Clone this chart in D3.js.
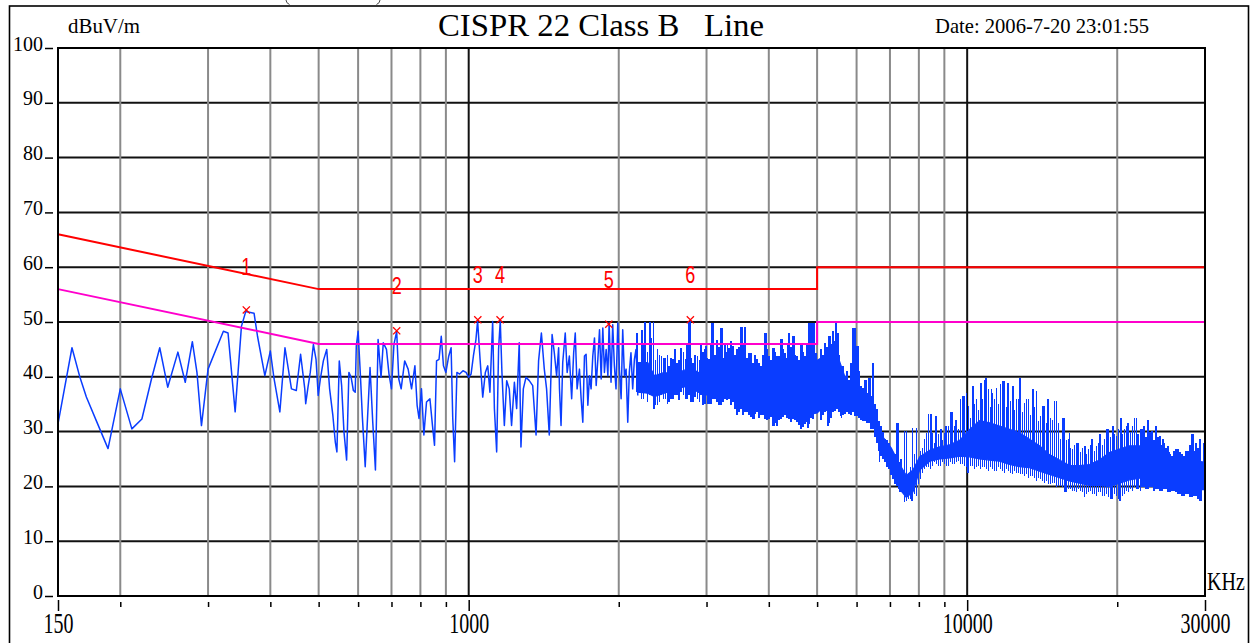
<!DOCTYPE html>
<html>
<head>
<meta charset="utf-8">
<script src="https://cdn.jsdelivr.net/npm/d3@7"></script>
<style>
  body { margin: 0; background: #fff; }
  svg { display: block; }
  text { font-family: "Liberation Serif", "Times New Roman", serif; }
</style>
</head>
<body>
<div id="chart"></div>
<script>
// CISPR 22 class B conducted scan (kHz / dBuV)

// sparse part of the sweep, drawn as a plain polyline
const traceFreq = [150,160,166,171,179,189,200,211,221,231,240,249,261,270,279,285,291,300,322,329,
  340,350,357,371,377,390,400,407,418,428,441,451,460,469,471,476,481,488,494,499,
  504,511,519,526,534,540,544,550,556,562,569,575,581,587,592,595,600,606,612,620,
  627,634,642,650,658,667,674,684,692,700,708,717,724,732,744,756,768,780,788,795,
  804,813,823,836,846,854,862,872,881,890,900,912,922,929,937,947,959,974,988,1000,
  1011,1022,1034,1042,1054,1067,1080,1092,1103,1117,1126,1138,1148,1157,1166,1179,1192,1206,1219,1235,
  1248,1263,1273,1287,1303,1323,1344,1365,1381,1399,1418,1433,1451,1470,1485,1501,1515,1521,1532,1544,
  1562,1576,1592,1609,1624,1636,1650,1668,1681,1694,1707,1720,1734,1747,1760,1774,1788,1802,1816,1830,
  1844,1858,1872,1887,1902,1913,1930,1945,1960,1975,1991,2006,2022,2037,2053,2069,2085,2100,2116,2133,
  2150,2166,2184];
const traceLevel = [31.4,45.3,39.9,36.3,32.0,26.9,37.8,30.5,32.3,39.6,45.3,38.1,44.5,39.0,46.4,40.8,31.1,41.4,48.3,48.0,
  33.6,49.2,51.9,51.6,47.4,40.2,44.7,39.6,33.6,45.3,37.8,37.5,44.1,37.8,35.1,38.1,40.8,45.9,43.2,36.6,
  39.6,42.9,45.0,37.8,32.9,28.1,26.3,42.9,38.4,30.0,24.8,40.8,39.9,37.5,37.2,45.6,48.3,40.8,32.6,23.6,
  32.9,41.7,31.7,23.0,46.8,39.9,46.2,45.0,40.5,37.8,45.9,48.3,39.6,37.8,42.9,41.4,37.8,42.0,34.8,32.4,
  37.8,29.4,35.4,36.0,31.1,27.5,42.9,43.2,47.4,42.0,40.8,43.8,45.3,32.4,24.5,40.8,40.5,41.1,40.8,39.9,
  40.5,43.8,46.8,50.2,43.2,36.3,40.8,42.0,37.2,50.1,34.2,26.3,45.0,50.2,40.8,31.1,39.3,37.8,31.1,39.0,
  34.2,46.2,27.2,37.8,39.9,39.3,38.4,29.4,42.9,48.0,41.4,37.8,29.4,47.7,44.4,40.2,45.3,37.8,31.1,42.6,
  48.0,40.8,43.8,36.0,44.4,48.0,37.8,41.4,36.0,31.7,43.8,44.1,34.8,40.2,37.8,43.8,47.1,38.4,43.2,48.6,
  39.6,48.9,40.8,45.0,40.2,49.8,39.0,49.5,42.0,37.8,49.8,41.4,36.0,48.6,40.2,41.4,31.7,40.8,44.4,37.8,
  43.2,45.0,36.6];

// dense part of the sweep: the solid core that every column covers
const bandFreq = [2184,2287,2358,2468,2585,2707,2836,2969,3110,3257,3411,3572,3740,3917,4102,4296,4498,4711,4762,5000,
  5220,5467,5725,5996,6278,6525,6779,7044,7323,7551,7786,8029,8410,8807,9224,9659,10116,10592,11091,11615,
  12163,12736,13338,13968,14628,15318,16041,16799,17593,18428,19298,20213,21167,22162,23208,24303,25449,26658,27906,29000,
  30000];
const bandLow = [37.2,37.0,36.4,37.0,37.6,38.2,37.6,36.6,37.0,37.4,36.6,35.4,34.8,34.2,34.2,34.2,34.2,34.2,33.0,33.4,
  35.0,34.6,34.6,34.0,33.2,30.5,26.2,23.2,19.5,18.0,19.0,23.0,24.6,25.0,25.2,25.5,25.4,25.0,24.8,24.6,
  24.0,23.6,23.4,22.8,22.2,21.6,21.0,20.6,20.2,20.2,20.0,20.6,21.2,21.5,21.5,21.2,20.8,20.2,19.8,19.4,
  19.4];
const bandHigh = [42.6,42.6,40.2,40.8,40.4,41.2,41.2,40.2,40.2,40.8,41.6,42.0,39.6,40.0,39.6,39.6,39.6,40.0,39.0,43.0,
  44.0,44.5,39.2,38.0,35.5,32.8,29.0,27.0,24.0,22.0,23.0,25.4,26.6,27.2,27.6,28.4,30.4,32.0,31.6,31.0,
  30.4,29.8,28.6,27.4,25.8,24.8,23.8,23.8,24.0,24.8,26.2,26.8,27.4,27.4,26.4,25.4,24.4,23.8,24.2,24.6,
  24.4];

// dense part, one column every 4 px: lowest and highest reading
const combFreq = [2220,2261,2304,2347,2390,2435,2480,2526,2573,2621,2670,2720,2770,2822,2875,2928,2983,3038,3095,3153,
  3211,3271,3332,3394,3458,3522,3588,3655,3723,3792,3863,3935,4008,4083,4159,4236,4315,4396,4478,4561,
  4646,4733,4821,4911,
  5096,5191,5288,5386,5487,5589,5693,5799,5907,6018,6130,6244,6360,6479,6600,6723,6848,6976,7106,7238,
  7373,
  7489,7629,7771,7916,8063,8213,8366,8522,8681,8843,9008,9176,9347,9521,9698,9879,10063,10250,10441,10636,
  10834,11036,11241,11450,11663,11880,12101,12327,12557,12791,13029,13272,13519,13771,14027,14288,14554,14825,15101,15383,
  15670,15962,16259,16562,16870,17184,17504,17830,18162,18500,18845,19196,19554,19918,20289,20667,21052,21444,21843,22250,
  22664,23086,23516,23954,24400,24855,25318,25789,26269,26758,27256,27764,28281,28808,29344];
const combTop = [48.6,50.0,50.0,50.0,45.0,43.8,43.5,42.0,43.2,42.6,45.3,43.2,50.0,42.6,43.8,45.9,45.0,43.2,49.8,46.8,
  48.9,46.2,45.3,45.6,45.0,49.0,49.0,44.4,42.6,43.2,42.0,48.0,43.8,45.3,43.8,46.9,44.4,48.0,47.4,43.8,
  45.9,43.8,49.8,49.2,
  45.0,46.2,47.4,48.3,48.0,41.9,40.1,39.5,48.9,45.6,38.3,39.5,39.8,42.5,34.1,31.0,28.6,28.0,26.2,31.6,
  25.0,
  30.1,22.5,30.7,27.4,26.5,28.6,33.2,29.8,32.8,30.4,29.8,31.0,33.5,32.2,35.9,36.5,34.7,38.0,35.9,38.9,
  39.5,37.7,37.1,38.0,38.6,39.2,36.5,38.3,35.9,39.7,35.3,35.9,37.7,37.4,32.8,34.7,35.9,32.2,35.6,28.6,
  32.5,28.6,26.8,28.0,26.2,27.4,26.8,28.6,27.4,29.5,28.6,30.4,31.0,29.2,32.5,30.4,31.6,31.0,32.5,30.4,
  31.0,32.2,30.1,31.0,29.2,28.0,27.4,25.6,26.8,26.2,25.6,26.5,29.5,28.0,28.6];
const combBottom = [36.0,37.2,36.6,34.2,34.8,36.6,36.0,35.4,36.0,36.6,37.2,36.0,36.6,35.4,36.0,36.6,35.1,35.1,36.0,35.4,
  34.8,36.0,36.0,35.4,33.0,34.2,33.6,33.0,32.3,33.6,33.0,32.3,32.3,31.1,31.1,32.3,33.0,32.3,32.3,31.7,
  30.5,31.4,31.4,32.3,
  32.2,33.5,31.6,33.5,34.1,32.8,33.2,33.2,33.5,32.8,32.2,31.9,31.6,30.4,28.0,25.6,24.4,23.2,21.3,20.1,
  18.9,
  17.1,17.7,17.4,18.3,21.3,23.2,23.5,23.8,24.1,23.8,24.1,23.8,24.1,24.4,24.1,23.8,22.5,23.8,23.5,23.2,
  23.5,22.8,23.2,22.8,23.2,22.5,22.8,22.2,22.5,22.2,21.9,21.6,21.9,21.0,21.3,20.7,20.4,20.7,19.8,20.1,
  18.9,19.5,19.2,18.9,19.2,18.0,18.9,18.6,18.3,18.9,18.3,18.0,17.7,18.3,17.4,18.6,18.9,19.2,19.5,19.2,
  19.8,19.5,19.8,19.5,19.2,19.5,18.9,19.2,18.9,18.6,18.3,18.6,18.0,18.3,17.4];

// columns in between the ones above, top of the solid mass
const fillFreq = [2241,2282,2325,2369,2412,2458,2503,2549,2597,2645,2695,2745,2796,2848,2902,2955,3011,3066,3124,3182,
  3241,3301,3363,3426,3490,3555,3621,3689,3758,3827,3899,3972,4045,4121,4198,4275,4355,4437,4520,4603,
  4689,4777,4866,
  5143,5239,5337,5436,5538,5641,5746,5853,5962,6074,6187,6302,6419,6539,6661,6785,6912,7041,7172,7305,
  7559,7700,7843,7989,8138,8289,8444,8601,8761,8925,9091,9261,9434,9609,9788,9971,10156,10345,10538,10735,
  10935,11138,11346,11557,11772,11991,12214,12442,12674,12910,13150,13395,13645,13899,14158,14421,14689,14963,15242,15526,
  15815,16109,16409,16715,17026,17343,17666,17995,18330,18671,19019,19373,19734,20102,20476,20857,21246,21642,22045,22455,
  22874,23300,23734,24176,24626,25085,25552,26028,26512,27006,27509,28021,28543,29075];
const fillTop = [46.0,44.5,47.0,43.0,44.0,42.5,44.0,43.5,45.0,43.0,44.5,46.0,43.5,44.0,43.0,44.5,43.5,46.0,44.0,45.5,
  43.5,44.5,46.5,44.0,45.5,46.0,43.5,42.5,44.0,42.5,44.0,45.0,43.0,44.5,42.5,45.0,43.5,45.5,44.0,43.0,
  44.5,46.0,47.0,
  44.0,45.5,46.0,46.5,44.0,42.0,41.0,42.5,44.0,41.0,38.0,37.0,36.5,35.0,32.0,30.0,28.5,27.0,26.0,24.5,
  24.0,23.5,26.0,25.0,27.0,26.5,29.0,28.0,29.5,28.5,30.0,29.0,31.0,30.5,32.0,33.5,32.5,35.0,34.0,36.0,
  35.5,34.5,36.0,35.0,36.5,34.5,35.5,34.0,36.0,33.5,34.5,33.0,34.5,32.0,33.0,31.5,32.5,30.5,31.5,29.0,
  28.5,27.0,27.5,26.5,27.0,26.0,27.5,26.5,28.0,27.5,28.5,29.0,29.5,30.5,29.5,31.0,30.0,31.0,29.5,30.5,
  29.0,30.0,28.5,29.0,27.5,27.0,26.0,26.5,25.5,26.0,26.5,27.5,26.5,27.0];
const fillBottom = [36.0,35.4,36.6,34.8,35.4,36.0,35.1,36.0,36.6,35.7,36.6,36.0,35.4,36.3,35.4,34.8,35.7,35.1,36.0,34.8,
  35.4,35.7,34.8,34.2,33.6,33.0,33.6,32.7,33.3,32.4,33.0,32.1,32.7,31.5,32.1,32.7,32.4,31.8,32.1,31.2,
  30.9,31.8,32.4,
  33.0,33.8,32.5,33.8,33.5,33.0,33.5,33.0,32.8,32.5,32.0,31.5,30.5,29.0,26.5,25.0,23.5,22.0,20.5,19.5,
  17.4,17.7,18.6,20.5,22.5,23.5,23.2,24.4,23.8,24.4,23.8,24.4,24.1,24.7,24.1,23.5,23.8,23.2,23.8,23.5,
  23.2,23.5,22.8,23.5,22.8,23.2,22.5,22.8,22.5,22.2,22.2,21.9,21.6,21.6,21.0,21.0,20.4,20.7,20.1,19.8,
  19.5,19.5,19.2,19.5,18.9,18.6,19.2,18.6,18.9,18.3,18.6,18.0,18.6,17.7,18.3,19.2,19.5,19.8,19.5,19.8,
  19.5,19.8,19.2,19.5,19.2,19.5,18.9,19.2,18.6,18.3,18.6,18.0,18.3,17.7];

// single peaks sticking out between the columns
const spikeFreq = [2177,2224,2252,2312,2350,2394,2468,2527,2566,2667,2750,2784,2924,2993,3076,3158,3232,3307,3385,3464,
  3544,3583,3684,3798,3948,4009,4102,4198,4263,4362,4396,4498,4569,4676,4785,4858,4908,4934,4969,5180,
  5300,5384,5450,5510,5636,5813,5949,6042,6278,6375,6473,7266,7551,7908,8281,8473,8669,8869,9074,9288,
  9503,9808,9964,10275,10674,10923,11185,11446,11799,12070,12350,12736,13141,13555,13770,14197,14526,14966,15548,16041,
  16671,17280,17799,18428,19056,19649,20363,21003,21662,22344,23048,23937,24686,25449,26472,27494,28345,29224,29768];
const spikeTop = [48.0,48.6,50.0,50.0,50.0,45.0,43.5,42.0,43.2,45.3,43.8,50.4,45.9,45.6,49.8,46.8,48.9,46.2,45.6,45.0,
  49.0,49.0,44.4,43.2,48.0,43.8,45.3,43.8,46.9,46.2,48.0,47.4,43.8,46.2,45.0,49.8,49.8,49.8,44.4,45.0,
  47.4,48.3,49.8,48.0,41.9,39.5,48.9,45.6,39.5,39.8,42.5,31.6,30.1,30.7,29.8,33.2,32.8,30.4,31.0,33.5,
  32.2,36.5,37.1,38.3,38.9,39.7,37.7,38.0,39.2,38.9,38.3,39.7,35.9,37.7,37.4,34.7,35.9,35.6,32.5,29.8,
  28.0,27.4,28.6,29.5,30.4,31.0,32.5,31.6,32.5,30.4,32.2,31.0,28.6,26.2,26.8,26.5,29.5,28.6,28.0];

// downward dips below the core
const dipFreq = [2358,3016,3208,3464,3740,4102,4640,4795,4822,5260,5594,6676,7323,7489,7727,10036,15797,17197,19448,20213,26245,29456];
const dipBottom = [34.2,35.1,34.8,33.0,32.3,31.1,30.5,30.7,31.4,31.0,32.5,24.4,18.9,17.1,17.4,22.5,18.9,18.0,17.7,17.4,18.9,17.4];

// limits
const limitFreq = [150, 500, 5000, 5000, 30000];
const qpLimit = [66, 56, 56, 60, 60];
const avgLimit = [56, 46, 46, 50, 50];

// marked peaks
const markerFreq = [358, 717, 1043, 1156, 1910, 2784];
const markerLevel = [52.2, 48.4, 50.4, 50.4, 49.6, 50.4];
const markerLabelLevel = [58.6, 55.1, 57.1, 57.1, 56.2, 57.1];
const markerNames = ["1", "2", "3", "4", "5", "6"];

// axes
const yTicks = [0, 10, 20, 30, 40, 50, 60, 70, 80, 90, 100];
const xGridMinor = [200, 300, 400, 500, 600, 700, 800, 900, 2000, 3000, 4000, 5000, 6000, 7000, 8000, 9000, 20000];
const xGridMajor = [1000, 10000];
const xLabels = [150, 1000, 10000, 30000];

const width = 1252, height = 643;
const blue = "#0a3dff", red = "#ff0000", magenta = "#ff00cc";

let svg = d3.select("#chart")
  .append("svg")
  .attr("width", width)
  .attr("height", height);

let x = d3.scaleLog().domain([150, 30000]).range([58, 1205]);
let y = d3.scaleLinear().domain([0, 100]).range([596, 48]);

// outer frame, bottom runs off the picture
svg.append("rect")
  .attr("x", 9.5).attr("y", 6)
  .attr("width", 1239).attr("height", 700)
  .attr("fill", "#fff")
  .attr("stroke", "#000")
  .attr("stroke-width", 1.6);

// tails of the bracket of a caption cut off above the picture
svg.append("path")
  .attr("d", "M286,0Q286,3 289.5,4.5M380,0Q380,3 376.5,4.5")
  .attr("fill", "none").attr("stroke", "#444").attr("stroke-width", 1);

// grid
let grid = svg.append("g").attr("id", "grid");
grid.selectAll("line.h")
  .data(yTicks.slice(1, -1))
  .enter().append("line")
  .attr("x1", x.range()[0]).attr("x2", x.range()[1])
  .attr("y1", (d) => y(d)).attr("y2", (d) => y(d))
  .attr("stroke", "#111").attr("stroke-width", 2);
grid.selectAll("line.vminor")
  .data(xGridMinor)
  .enter().append("line")
  .attr("x1", (d) => x(d)).attr("x2", (d) => x(d))
  .attr("y1", y(0)).attr("y2", y(100))
  .attr("stroke", "#8a8a8a").attr("stroke-width", 2);
grid.selectAll("line.vmajor")
  .data(xGridMajor)
  .enter().append("line")
  .attr("x1", (d) => x(d)).attr("x2", (d) => x(d))
  .attr("y1", y(0)).attr("y2", y(100))
  .attr("stroke", "#111").attr("stroke-width", 2);

// y axis, ticks stand off the frame
let yAxis = svg.append("g")
  .attr("transform", "translate(53,0)")
  .call(d3.axisLeft(y).tickValues(yTicks).tickSize(8).tickPadding(2));
yAxis.select(".domain").remove();
yAxis.selectAll(".tick line").attr("stroke", "#000").attr("stroke-width", 1.5);
yAxis.selectAll(".tick text")
  .attr("dy", 2)
  .attr("font-size", 20)
  .style("font-family", "Liberation Serif")
  .attr("fill", "#000");

// x axis
let allXTicks = [150].concat(xGridMinor, xGridMajor, [30000]).sort((a, b) => a - b);
let xAxis = svg.append("g")
  .attr("transform", "translate(0,600)")
  .call(d3.axisBottom(x).tickValues(allXTicks).tickSize(11)
    .tickFormat((d) => xLabels.includes(d) ? String(d) : ""));
xAxis.select(".domain").remove();
xAxis.selectAll(".tick line")
  .attr("stroke", "#000").attr("stroke-width", 1.5)
  .attr("y1", (d) => xLabels.includes(d) ? 0 : 2)
  .attr("y2", (d) => xLabels.includes(d) ? 11 : 7);
xAxis.selectAll(".tick text")
  .attr("y", 0).attr("dy", 0)
  .attr("transform", "translate(0,33) scale(1,1.5)")
  .attr("font-size", 20)
  .style("font-family", "Liberation Serif")
  .attr("fill", "#000");

// trace
let plot = svg.append("g").attr("id", "plot");

let line = d3.line().x((d) => x(d[0])).y((d) => y(d[1]));
plot.append("path")
  .attr("d", line(d3.zip(traceFreq, traceLevel)))
  .attr("fill", "none")
  .attr("stroke", blue)
  .attr("stroke-width", 1.5)
  .attr("stroke-linejoin", "round");

let area = d3.area()
  .x((d) => x(d[0]))
  .y0((d) => y(d[1]))
  .y1((d) => y(d[2]));
plot.append("path")
  .attr("d", area(d3.zip(bandFreq, bandLow, bandHigh)))
  .attr("fill", blue)
  .attr("stroke", blue)
  .attr("stroke-width", 1.2);

// vertical strokes share one look: full colour, no smoothing
function stroke(sel) {
  sel.attr("stroke", blue)
    .attr("stroke-width", 1.6)
    .attr("shape-rendering", "crispEdges");
}

// columns of the dense part, min to max
let columns = d3.zip(combFreq, combBottom, combTop).concat(d3.zip(fillFreq, fillBottom, fillTop));
plot.selectAll("line.col")
  .data(columns)
  .enter().append("line")
  .attr("class", "col")
  .attr("x1", (d) => x(d[0])).attr("x2", (d) => x(d[0]))
  .attr("y1", (d) => y(d[1]))
  .attr("y2", (d) => y(d[2]))
  .call(stroke);

// core edges at any frequency, for hanging spikes and dips off it
let bandLowAt = d3.scaleLog().domain(bandFreq).range(bandLow).clamp(true);
let bandHighAt = d3.scaleLog().domain(bandFreq).range(bandHigh).clamp(true);

plot.selectAll("line.spike")
  .data(d3.zip(spikeFreq, spikeTop))
  .enter().append("line")
  .attr("class", "spike")
  .attr("x1", (d) => x(d[0])).attr("x2", (d) => x(d[0]))
  .attr("y1", (d) => y(bandLowAt(d[0])))
  .attr("y2", (d) => y(d[1]))
  .call(stroke);

plot.selectAll("line.dip")
  .data(d3.zip(dipFreq, dipBottom))
  .enter().append("line")
  .attr("class", "dip")
  .attr("x1", (d) => x(d[0])).attr("x2", (d) => x(d[0]))
  .attr("y1", (d) => y(bandHighAt(d[0])))
  .attr("y2", (d) => y(d[1]))
  .call(stroke);

// limit lines on top of the trace
plot.append("path")
  .attr("d", line(d3.zip(limitFreq, qpLimit)))
  .attr("fill", "none").attr("stroke", red).attr("stroke-width", 2);
plot.append("path")
  .attr("d", line(d3.zip(limitFreq, avgLimit)))
  .attr("fill", "none").attr("stroke", magenta).attr("stroke-width", 2);

// markers
let markers = plot.selectAll("g.marker")
  .data(d3.zip(markerFreq, markerLevel, markerLabelLevel, markerNames))
  .enter().append("g")
  .attr("class", "marker");
markers.append("path")
  .attr("d", (d) => {
    let cx = x(d[0]), cy = y(d[1]), r = 3.6;
    return `M${cx - r},${cy - r}L${cx + r},${cy + r}M${cx + r},${cy - r}L${cx - r},${cy + r}`;
  })
  .attr("stroke", red).attr("stroke-width", 1.3).attr("fill", "none");
markers.append("text")
  .attr("transform", (d) => `translate(${x(d[0])},${y(d[2])}) scale(0.82,1.12)`)
  .attr("text-anchor", "middle")
  .style("font-family", "'Liberation Sans', Arial, sans-serif")
  .attr("font-size", 22)
  .attr("fill", red)
  .text((d) => d[3]);

// plot frame
svg.append("rect")
  .attr("x", x.range()[0]).attr("y", y(100))
  .attr("width", x.range()[1] - x.range()[0])
  .attr("height", y(0) - y(100))
  .attr("fill", "none")
  .attr("stroke", "#000")
  .attr("stroke-width", 2);

// titles
svg.append("text")
  .attr("x", 68).attr("y", 33)
  .attr("font-size", 20)
  .attr("textLength", 72).attr("lengthAdjust", "spacingAndGlyphs")
  .text("dBuV/m");
svg.append("text")
  .attr("x", 438).attr("y", 36)
  .attr("font-size", 32)
  .style("white-space", "pre")
  .attr("textLength", 326).attr("lengthAdjust", "spacingAndGlyphs")
  .text("CISPR 22 Class B   Line");
svg.append("text")
  .attr("x", 935).attr("y", 33)
  .attr("font-size", 21)
  .attr("textLength", 214).attr("lengthAdjust", "spacingAndGlyphs")
  .text("Date: 2006-7-20 23:01:55");
svg.append("text")
  .attr("transform", "translate(1207,590) scale(1,1.3)")
  .attr("font-size", 20)
  .text("KHz");
</script>
</body>
</html>
